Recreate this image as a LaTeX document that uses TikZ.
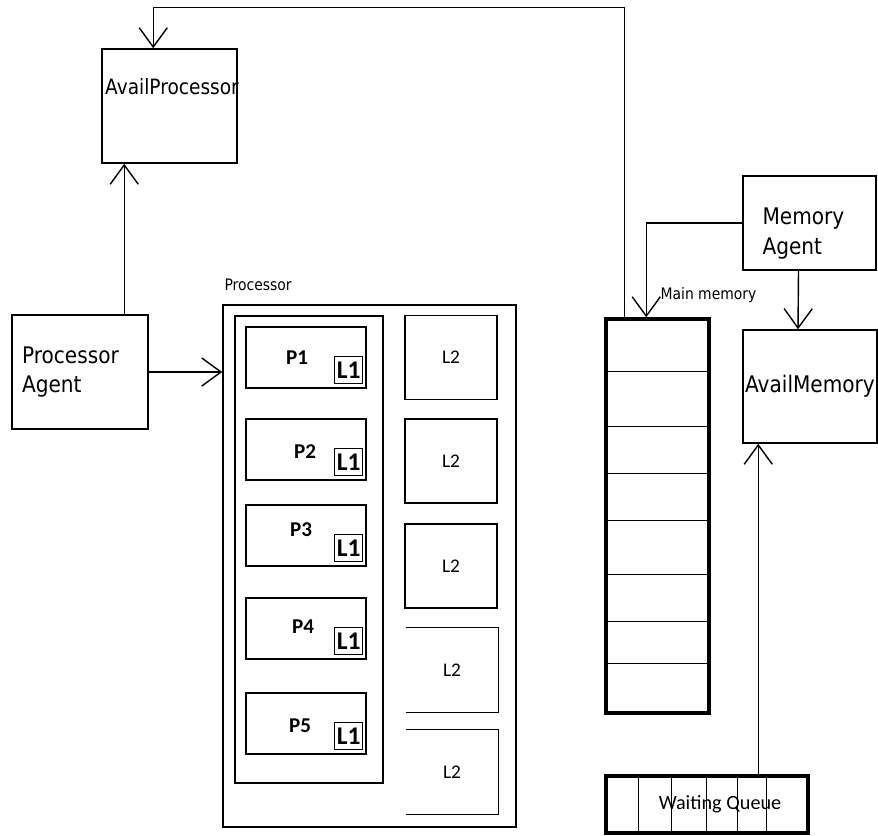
\documentclass[tikz,border=0pt]{standalone}
\usepackage{fontspec}
\setmainfont{DejaVu Sans}
\newfontfamily\narrowfont{DejaVu Sans}[FakeStretch=0.88]
\newfontfamily\calfont{Carlito}
\usetikzlibrary{arrows.meta,calc,positioning}
\tikzset{flow/.style={-{Straight Barb[length=11pt,width=16pt]}, line width=0.8pt},
  box/.style={draw, line width=0.9pt, inner sep=0pt},
  fat/.style={draw, line width=2pt, inner sep=0pt}}

\begin{document}
\begin{tikzpicture}[x=0.02cm, y=-0.02cm]
  \useasboundingbox (0,0) rectangle (878,835);
  % agents and free lists
  \node[box, minimum width=2.7cm, minimum height=2.28cm] (avp) at (169.5,106) {};
  \node[inner sep=0pt, font=\narrowfont\fontsize{12}{14}\selectfont, below=0.6cm of avp.north, xshift=0.05cm] (avptxt) {AvailProcessor};
  \node[box, minimum width=2.72cm, minimum height=2.28cm, inner xsep=0.2cm, text width=2.32cm, align=left, font=\narrowfont\fontsize{13}{17}\selectfont] (pa) at (80,372) {Processor\\Agent};
  \node[box, minimum width=2.66cm, minimum height=1.88cm] (ma) at (809.5,223) {};
  \node[inner sep=0pt, text width=1.86cm, align=left, font=\narrowfont\fontsize{13}{17}\selectfont, below right=0.64cm and 0.4cm of ma.north west] (matxt) {Memory\\Agent};
  \node[box, minimum width=2.68cm, minimum height=2.26cm, font=\narrowfont\fontsize{13}{15}\selectfont] (am) at (810,386.5) {AvailMemory};
  % processor
  \node[box, minimum width=5.86cm, minimum height=10.44cm] (proc) at (369.5,566) {};
  \node[inner sep=0pt, font=\narrowfont\fontsize{9}{11}\selectfont, above right=0.26cm and 0.04cm of proc.north west] (proclbl) {Processor};
  \node[draw, line width=1.6pt, minimum width=2.96cm, minimum height=9.34cm] (cores) at (309,549.5) {};
  \foreach \i/\y/\dx/\dy in {1/357.5/-9/0,2/449.5/-1/2,3/535.5/-5/-6,4/628.5/-3/-2,5/723.5/-6/2}{
    \node[box, minimum width=2.4cm, minimum height=1.22cm] (p\i) at (306,\y) {};
    \node[font=\calfont\bfseries\fontsize{12}{14}\selectfont] (p\i lbl) at ($(p\i)+(\dx,\dy)$) {P\i};
    \node[box, line width=0.6pt, minimum width=0.56cm, minimum height=0.54cm, font=\calfont\bfseries\fontsize{14.5}{15}\selectfont] (l1\i) at ($(p\i.south east)+(-18,-19)$) {L1};
  }
  \foreach \i/\y in {1/357.5,2/461,3/566}
    \node[box, minimum width=1.84cm, minimum height=1.68cm, font=\calfont\fontsize{11}{12}\selectfont] (l2\i) at (451,\y) {L2};
  \foreach \i/\y in {4/670,5/772}{
    \node[inner sep=0pt, minimum width=1.84cm, minimum height=1.68cm, font=\calfont\fontsize{11}{12}\selectfont] (l2\i) at (452,\y) {L2};
    \draw[line width=0.9pt] (l2\i.north west) -- (l2\i.north east) -- (l2\i.south east) -- (l2\i.south west);
  }
  % memory
  \node[fat, minimum width=2.06cm, minimum height=7.88cm] (mm) at (657.5,516) {};
  \foreach \d in {54,109,156,203,257,304,346}
    \draw[line width=0.8pt] ($(mm.north west)+(0,\d)$) -- ($(mm.north east)+(0,\d)$);
  \node[inner sep=0pt, font=\narrowfont\fontsize{9}{11}\selectfont, above right=0.28cm and 1.12cm of mm.north west] (mmlbl) {Main memory};
  \node[fat, minimum width=4.04cm, minimum height=1.14cm] (wq) at (707,804.5) {};
  \foreach \d in {34,67,102,133,162}
    \draw[line width=0.8pt] ($(wq.north west)+(\d,0)$) -- ($(wq.south west)+(\d,0)$);
  \node[font=\calfont\fontsize{11.5}{12}\selectfont] (wqlbl) at ($(wq)+(13,0)$) {Waiting Queue};
  % connectors
  \coordinate (avpin) at ($(avp.south west)+(23,0)$);
  \draw[flow] (pa.north -| avpin) -- (avpin);
  \draw[flow] (pa.east) -- (pa.east -| proc.west);
  \draw[flow] ($(mm.north west)+(20,0)$) |- ($(avp.north west)+(52,-41)$) -- ($(avp.north west)+(52,0)$);
  \draw[flow] (ma.west) -| ($(mm.north west)+(42,0)$);
  \draw[flow] ($(ma.south)+(-11,0)$) -- ($(am.north)+(-12,0)$);
  \coordinate (amin) at ($(am.south west)+(16,0)$);
  \draw[flow] (wq.north -| amin) -- (amin);
\end{tikzpicture}
\end{document}
